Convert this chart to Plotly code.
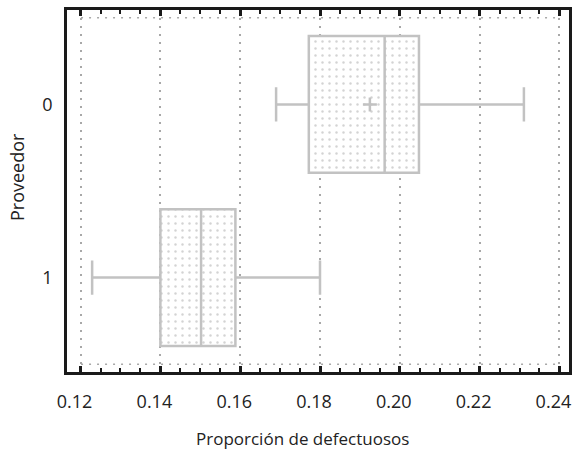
import plotly.graph_objects as go

# Data
proveedores = [0, 1]
proveedor_labels = ["0", "1"]
q1_vals = [0.1772, 0.1400]
median_vals = [0.1962, 0.1502]
q3_vals = [0.2048, 0.1588]
lower_whisker = [0.1690, 0.1229]
upper_whisker = [0.2311, 0.1800]
mean_vals = [0.1925, None]

x_ticks = [0.12, 0.14, 0.16, 0.18, 0.20, 0.22, 0.24]
x_ticktext = ["0.12", "0.14", "0.16", "0.18", "0.20", "0.22", "0.24"]
x_title = "Proporción de defectuosos"
y_title = "Proveedor"

GRAY = "#c2c2c2"
GRID = "#a8a8a8"
FONT = "Open Sans"
TXT = "#222222"

fig = go.Figure()

# patterned fill of the boxes (bars from q1 to q3)
fig.add_trace(go.Bar(
    y=proveedores,
    x=[q3 - q1 for q1, q3 in zip(q1_vals, q3_vals)],
    base=q1_vals,
    orientation="h",
    width=0.79,
    marker=dict(color="white", line=dict(width=0),
                pattern=dict(shape=".", fgcolor="#a8a8a8", bgcolor="white",
                             size=7, solidity=0.1)),
    hoverinfo="skip",
    showlegend=False,
))

# box outlines with precomputed stats
fig.add_trace(go.Box(
    y=proveedores,
    q1=q1_vals,
    median=median_vals,
    q3=q3_vals,
    lowerfence=lower_whisker,
    upperfence=upper_whisker,
    orientation="h",
    width=0.79,
    whiskerwidth=0.25,
    boxpoints=False,
    fillcolor="rgba(0,0,0,0)",
    line=dict(color=GRAY, width=2.5),
    showlegend=False,
))

# mean markers
mx = [m for m in mean_vals if m is not None]
my = [p for p, m in zip(proveedores, mean_vals) if m is not None]
fig.add_trace(go.Scatter(
    x=mx, y=my, mode="markers",
    marker=dict(symbol="cross-thin", size=10, line=dict(color=GRAY, width=2.5), color=GRAY),
    showlegend=False,
))

# horizontal dotted lines at the category boundaries
for yv in [-0.5, 1.5]:
    fig.add_shape(type="line", xref="paper", x0=0.028, x1=0.982, yref="y", y0=yv, y1=yv,
                  line=dict(color=GRID, width=1.5, dash="2px,6px"), layer="below")

# axis titles (placed as in the reference, slightly off-centre)
fig.add_annotation(text=x_title, xref="paper", yref="paper", x=0.470, y=0,
                   xanchor="center", yanchor="middle", yshift=-66, showarrow=False,
                   font=dict(size=17, family=FONT, color=TXT))
fig.add_annotation(text=y_title, xref="paper", yref="paper", x=-0.0996, y=0.5387,
                   xanchor="center", yanchor="middle", textangle=-90, showarrow=False,
                   font=dict(size=18, family=FONT, color=TXT))

fig.update_layout(
    width=576, height=453,
    margin=dict(l=67, r=7, t=10, b=81, autoexpand=False),
    paper_bgcolor="white", plot_bgcolor="white",
    font=dict(family=FONT, size=18, color=TXT),
    bargap=0,
)

fig.update_xaxes(
    range=[0.1166, 0.2424],
    tickvals=x_ticks, ticktext=x_ticktext,
    ticks="inside", ticklen=6, tickwidth=2.5, tickcolor="#1a1a1a",
    minor=dict(dtick=0.005, tick0=0.12, ticks="inside", ticklen=4, tickwidth=2, tickcolor="#1a1a1a", showgrid=False),
    showline=True, linecolor="#1a1a1a", linewidth=2.5, mirror="ticks",
    showgrid=True, gridcolor=GRID, griddash="2px,6px", gridwidth=1.5,
    zeroline=False, automargin=False, ticklabeloverflow="allow",
    tickfont=dict(size=18, family=FONT, color=TXT),
    ticklabelstandoff=12, ticklabelshift=-6,
)

fig.update_yaxes(
    range=[1.545, -0.545],
    tickvals=proveedores, ticktext=proveedor_labels,
    ticks="", showgrid=False, zeroline=False,
    showline=True, linecolor="#1a1a1a", linewidth=2.5, mirror=True,
    automargin=False,
    tickfont=dict(size=18, family=FONT, color=TXT),
    ticklabelstandoff=8,
)

fig.write_html(
    "out.html",
    config={"displayModeBar": False},
    post_script="document.body.style.margin='0';document.body.style.overflow='hidden';",
)
